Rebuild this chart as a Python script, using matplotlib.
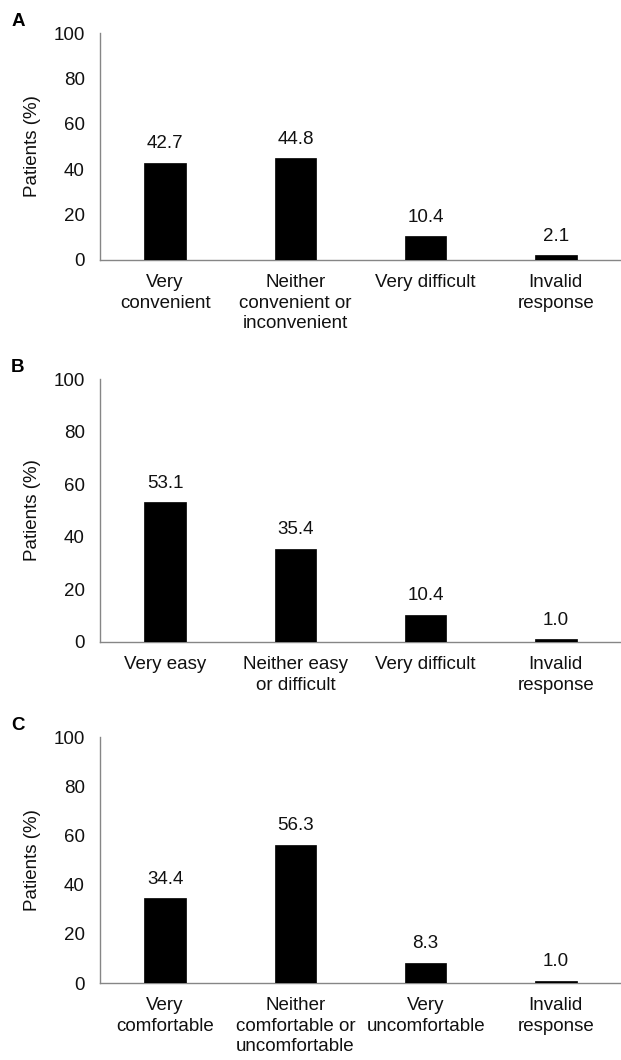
import matplotlib
matplotlib.use("Agg")
import matplotlib.pyplot as plt

plt.rcParams['font.family'] = ['Liberation Sans', 'DejaVu Sans']

# Data
cats_a = ["Very\nconvenient", "Neither\nconvenient or\ninconvenient", "Very difficult", "Invalid\nresponse"]
vals_a = [42.7, 44.8, 10.4, 2.1]
cats_b = ["Very easy", "Neither easy\nor difficult", "Very difficult", "Invalid\nresponse"]
vals_b = [53.1, 35.4, 10.4, 1.0]
cats_c = ["Very\ncomfortable", "Neither\ncomfortable or\nuncomfortable", "Very\nuncomfortable", "Invalid\nresponse"]
vals_c = [34.4, 56.3, 8.3, 1.0]
panel_letters = ["A", "B", "C"]
yticks = [0, 20, 40, 60, 80, 100]

W, H = 621, 1060
fig = plt.figure(figsize=(W / 100, H / 100), dpi=100)

# (top_px, bottom_px) of each axes
boxes = [(33, 260), (379, 642), (737, 983)]
left_px, right_px = 100, 621
FS = 13.5
spine_col = '#868686'

for (top, bot), cats, vals, letter in zip(boxes, [cats_a, cats_b, cats_c],
                                          [vals_a, vals_b, vals_c], panel_letters):
    ax = fig.add_axes([left_px / W, (H - bot) / H, (right_px - left_px) / W, (bot - top) / H])
    x = list(range(len(cats)))
    ax.bar(x, vals, width=0.32, color='black', edgecolor='black', linewidth=0.5, zorder=3)
    for xi, v in zip(x, vals):
        ax.annotate(f"{v:.1f}", xy=(xi, v), xytext=(0, 10.5), textcoords='offset points',
                    ha='center', va='baseline', fontsize=FS, color='#111111')
    ax.set_xlim(-0.5, 3.5)
    ax.set_ylim(0, 100)
    ax.set_yticks(yticks)
    ax.set_xticks(x)
    ax.set_xticklabels(cats, fontsize=FS, linespacing=1.28, color='#111111')
    ax.tick_params(axis='y', length=0, pad=11, labelsize=FS, labelcolor='#111111')
    ax.tick_params(axis='x', length=0, pad=10)
    for s in ['top', 'right']:
        ax.spines[s].set_visible(False)
    for s in ['left', 'bottom']:
        ax.spines[s].set_color(spine_col)
        ax.spines[s].set_linewidth(1.0)
    ax.set_ylabel("Patients (%)", fontsize=FS, color='#111111', labelpad=9)
    fig.text(18 / W, 1 - (top - 12) / H, letter, fontsize=FS, fontweight='bold',
             ha='center', va='center', color='black')

fig.savefig("out.png", dpi=100)
